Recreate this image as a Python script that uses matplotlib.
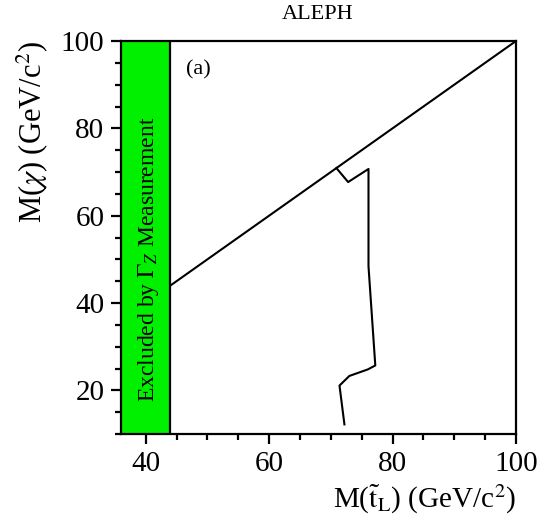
import matplotlib
matplotlib.use("Agg")
import matplotlib.pyplot as plt
from matplotlib.ticker import MultipleLocator

plt.rcParams['font.family'] = ['Liberation Serif', 'DejaVu Serif']
plt.rcParams['mathtext.fontset'] = 'stix'

# excluded band from Gamma_Z measurement
band_x = [36, 44]
band_y = [10, 100]

# kinematic limit M(chi) = M(stop)
diag_x = [44, 100]
diag_y = [44, 100]

# exclusion contour
cont_x = [70.9, 72.8, 76.1, 76.1, 77.2, 76.0, 73.0, 71.4, 72.2]
cont_y = [70.9, 67.7, 70.7, 48.4, 25.7, 24.8, 23.3, 21.1, 12.2]

fig = plt.figure(figsize=(5.51, 5.25), dpi=100)
ax = fig.add_axes([0.2196, 0.1733, 0.7169, 0.7486])

ax.fill_between(band_x, band_y[0], band_y[1], color='#00f000', lw=0, zorder=1)
ax.plot([band_x[1], band_x[1]], band_y, color='black', lw=1.6, zorder=2)
ax.plot(diag_x, diag_y, color='black', lw=1.5)
ax.plot(cont_x, cont_y, color='black', lw=1.5)

ax.text(40.4, 50, r'Excluded by $\Gamma_Z$ Measurement', rotation=90,
        ha='center', va='center', fontsize=17)
ax.text(48.6, 93.3, '(a)', ha='center', va='center', fontsize=16)

ax.set_xlim(36, 100)
ax.set_ylim(10, 100)
ax.xaxis.set_major_locator(MultipleLocator(20))
ax.xaxis.set_minor_locator(MultipleLocator(5))
ax.yaxis.set_major_locator(MultipleLocator(20))
ax.yaxis.set_minor_locator(MultipleLocator(5))
ax.tick_params(which='major', direction='out', length=7, width=1.6, labelsize=21, pad=5)
ax.tick_params(which='minor', direction='out', length=4, width=1.6)
for s in ax.spines.values():
    s.set_linewidth(1.6)

ax.set_xlabel(r'M($\tilde{\mathrm{t}}_\mathrm{L}$) (GeV/c$^2$)', fontsize=21, loc='right', labelpad=4)
ax.set_ylabel(r'M($\chi$) (GeV/c$^2$)', fontsize=22, loc='top', labelpad=8)
fig.text(0.577, 0.973, 'ALEPH', ha='center', va='center', fontsize=16)

fig.savefig('out.png', dpi=100)
